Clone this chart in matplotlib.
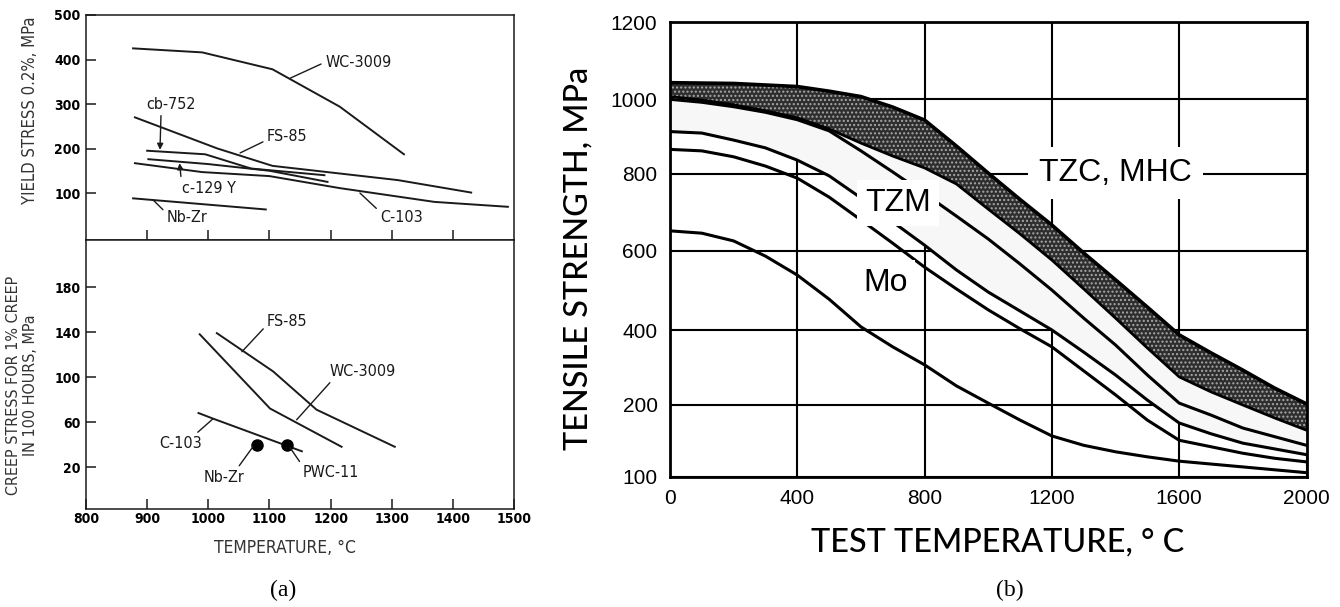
import numpy as np
import matplotlib.pyplot as plt

# ---- (a) yield stress, upper panel (temperature C, MPa) ----
wc3009_t = [877, 990, 1105, 1215, 1320]
wc3009_y = [425, 416, 378, 294, 187]
fs85_t = [880, 1015, 1105, 1310, 1430]
fs85_y = [270, 200, 161, 129, 101]
cb752_t = [900, 995, 1070, 1190]
cb752_y = [195, 187, 155, 140]
c129y_t = [902, 1000, 1100, 1195]
c129y_y = [176, 165, 150, 125]
c103_t = [880, 990, 1100, 1215, 1370, 1490]
c103_y = [167, 147, 138, 111, 80, 69]
nbzr_t = [877, 1094]
nbzr_y = [88, 63]

# ---- (a) creep stress, lower panel ----
creep_wc_t = [986, 1101, 1218]
creep_wc_y = [138, 72, 38]
creep_fs_t = [1014, 1106, 1177, 1305]
creep_fs_y = [139, 105, 71, 38]
creep_c103_t = [984, 1008, 1153]
creep_c103_y = [68, 63, 34]
dots_t = [1079, 1128]          # Nb-Zr, PWC-11
dots_y = [40, 40]

# ---- (b) tensile strength vs test temperature, read every 100 C ----
temp_b = list(range(0, 2001, 100))
band_top = [1043, 1042, 1041, 1037, 1033, 1021, 1007, 979, 944, 874, 801,
            733, 667, 595, 527, 458, 387, 339, 293, 245, 203]
band_bot = [1007, 998, 985, 969, 950, 920, 882, 847, 815, 773, 708,
            644, 577, 504, 430, 352, 275, 235, 200, 182, 165]
tzm_c = [1000, 992, 980, 965, 945, 915, 861, 804, 748, 690, 631,
         567, 501, 430, 360, 280, 205, 186, 168, 156, 144]
tzm_a = [913, 909, 890, 869, 836, 794, 737, 675, 615, 552, 496,
         448, 400, 341, 280, 213, 175, 160, 147, 139, 131]
tzm_b = [865, 861, 845, 820, 788, 739, 680, 620, 559, 504, 451,
         403, 355, 291, 227, 179, 151, 142, 133, 126, 121]
mo = [652, 646, 626, 587, 539, 478, 408, 355, 307, 251, 205,
      179, 157, 144, 135, 128, 122, 118, 114, 110, 106]

b_ticks = [100, 200, 400, 600, 800, 1000, 1200]
b_pos = [0, 72, 147, 226, 303.5, 377.7, 455]   # tick spacing of the original scale


def fwd(v):
    return np.interp(v, b_ticks, b_pos)


def inv(p):
    return np.interp(p, b_pos, b_ticks)


fig = plt.figure(figsize=(13.4, 6.07), dpi=100)
W, H = 1340, 607
ax1 = fig.add_axes([86 / W, 1 - 240 / H, 428 / W, 225 / H])
ax2 = fig.add_axes([86 / W, 1 - 509 / H, 428 / W, 269 / H])
ax3 = fig.add_axes([670 / W, 1 - 477 / H, 636.5 / W, 455 / H])

cond = dict(family='DejaVu Sans', fontstretch='condensed')
lc = '#1a1a1a'

for ax in (ax1, ax2):
    ax.set_xlim(800, 1500)
    for s in ax.spines.values():
        s.set_linewidth(1.1)
        s.set_color(lc)
    ax.tick_params(direction='in', length=7, width=1.1, color=lc, pad=4)

ax1.set_ylim(-5.6, 500)
ax1.set_xticks(range(900, 1401, 100))
ax1.tick_params(axis='x', labelbottom=False)
ax1.set_yticks([100, 200, 300, 400, 500], labels=['100', '200', '300', '400', '500'],
               fontsize=10, fontweight='bold', **cond)

for t, y in [(wc3009_t, wc3009_y), (fs85_t, fs85_y), (cb752_t, cb752_y),
             (c129y_t, c129y_y), (c103_t, c103_y), (nbzr_t, nbzr_y)]:
    ax1.plot(t, y, color=lc, lw=1.4)

ax2.set_ylim(-17.3, 221.8)
ax2.set_xticks(range(800, 1501, 100),
               labels=[str(v) for v in range(800, 1501, 100)],
               fontsize=10, fontweight='bold', **cond)
ax2.set_yticks([20, 60, 100, 140, 180], labels=['20', '60', '100', '140', '180'],
               fontsize=10, fontweight='bold', **cond)
ax2.tick_params(axis='x', pad=2)
for t, y in [(creep_wc_t, creep_wc_y), (creep_fs_t, creep_fs_y), (creep_c103_t, creep_c103_y)]:
    ax2.plot(t, y, color=lc, lw=1.4)
ax2.plot(dots_t, dots_y, 'o', color='black', ms=8)


def tag(ax, text, xy, xytext, rel=(0, 0.5), ha='left', arrow='-'):
    ax.annotate(text, xy=xy, xytext=xytext, ha=ha, va='center', fontsize=11.5,
                color=lc, **cond,
                arrowprops=dict(arrowstyle=arrow, lw=1.0, color=lc, shrinkA=1,
                                shrinkB=0, relpos=rel, mutation_scale=9))


tag(ax1, 'WC-3009', (1134, 358), (1191, 394))
tag(ax1, 'cb-752', (921, 197), (939, 300), rel=(0.3, 0), ha='center', arrow='-|>')
tag(ax1, 'FS-85', (1052, 190), (1096, 226), rel=(0, 0.3))
tag(ax1, 'c-129 Y', (953, 167), (957, 111), rel=(0, 0.6), arrow='-|>')
tag(ax1, 'Nb-Zr', (910, 84), (932, 44), rel=(0, 0.8))
tag(ax1, 'C-103', (1248, 100), (1281, 44), rel=(0, 0.9))

tag(ax2, 'FS-85', (1055, 122.5), (1096, 149), rel=(0, 0.3))
tag(ax2, 'WC-3009', (1144.5, 62), (1199, 105), rel=(0.05, 0))
tag(ax2, 'C-103', (1008, 63), (955, 41), rel=(0.8, 1), ha='center')
tag(ax2, 'Nb-Zr', (1073, 38), (1026, 11), rel=(0.8, 1), ha='center')
tag(ax2, 'PWC-11', (1134, 37), (1155, 15), rel=(0, 0.9))

fig.text(30 / W, 1 - 110 / H, 'YIELD STRESS 0.2%, MPa', rotation=90, ha='center',
         va='center', fontsize=12, color='#333', **cond)
fig.text(22 / W, 1 - 385 / H, 'CREEP STRESS FOR 1% CREEP\nIN 100 HOURS, MPa', rotation=90,
         ha='center', va='center', fontsize=11.5, color='#333', linespacing=1.2, **cond)
fig.text(285 / W, 1 - 548 / H, 'TEMPERATURE, °C', ha='center', va='center',
         fontsize=12.5, color='#333', **cond)

# ---- (b) ----
ax3.set_yscale('function', functions=(fwd, inv))
ax3.set_xlim(0, 2000)
ax3.set_ylim(100, 1200)
ax3.set_xticks([0, 400, 800, 1200, 1600, 2000])
ax3.set_yticks(b_ticks)
ax3.set_xticklabels(['0', '400', '800', '1200', '1600', '2000'], fontsize=15,
                    family='Liberation Sans')
ax3.set_yticklabels([str(v) for v in b_ticks], fontsize=15, family='Liberation Sans')
ax3.tick_params(length=0, pad=9)
for s in ax3.spines.values():
    s.set_linewidth(2)
ax3.grid(True, color='black', lw=1.5)
ax3.set_axisbelow(True)

ax3.fill_between(temp_b, band_bot, tzm_a, color='#f7f7f7', lw=0, zorder=1)
ax3.fill_between(temp_b, band_top, band_bot, facecolor='#2e2e2e', edgecolor='#a8a8a8',
                 hatch='....', lw=0, zorder=2)
ax3.plot(temp_b, band_top, color='black', lw=2.6, zorder=3)
ax3.plot(temp_b, band_bot, color='black', lw=2.0, zorder=3)
for vals in (tzm_c, tzm_a, tzm_b, mo):
    ax3.plot(temp_b, vals, color='black', lw=2.2, zorder=3)

box = dict(boxstyle='square,pad=0.25', fc='white', ec='none')
ax3.text(1400, 801, 'TZC, MHC', fontsize=23, family='Liberation Sans', ha='center',
         va='center', bbox=dict(boxstyle='square,pad=0.35', fc='white', ec='none'), zorder=5)
ax3.text(717, 724, 'TZM', fontsize=23, family='Liberation Sans', ha='center', va='center',
         bbox=box, zorder=5)
ax3.text(676, 519, 'Mo', fontsize=23, family='Liberation Sans', ha='center', va='center',
         bbox=box, zorder=5)

fig.text(578 / W, 1 - 258 / H, 'TENSILE STRENGTH, MPa', rotation=90, ha='center',
         va='center', fontsize=23.3, fontweight=500, family='Lato')
fig.text(998 / W, 1 - 542 / H, 'TEST TEMPERATURE, ° C', ha='center', va='center',
         fontsize=23.3, fontweight=500, family='Lato')

fig.text(283 / W, 1 - 590 / H, '(a)', ha='center', va='center', fontsize=17,
         family='Liberation Serif')
fig.text(1010 / W, 1 - 590 / H, '(b)', ha='center', va='center', fontsize=17,
         family='Liberation Serif')

fig.savefig('out.png', dpi=100, facecolor='white')
